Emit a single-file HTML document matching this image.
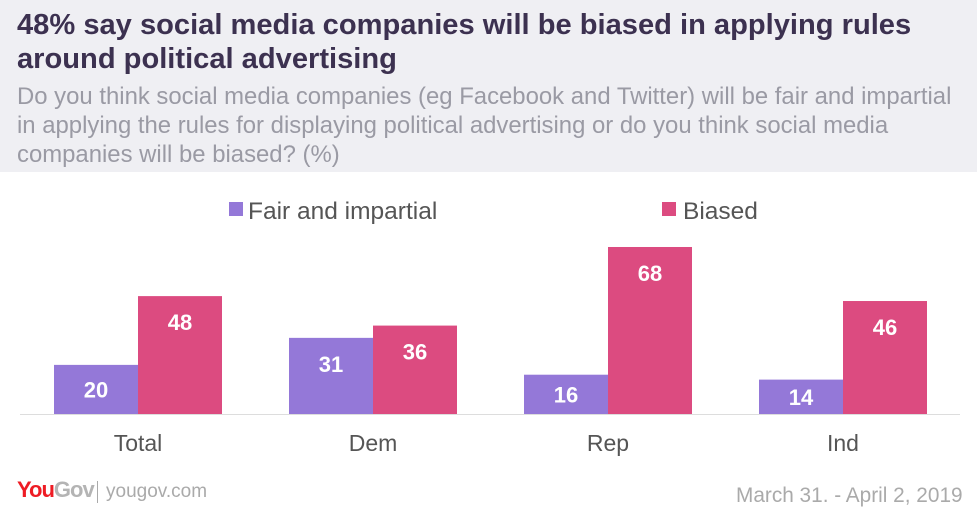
<!DOCTYPE html>
<html><head><meta charset="utf-8"><style>
body{margin:0;width:977px;height:508px;background:#fff;font-family:"Liberation Sans",sans-serif;position:relative;overflow:hidden}
#hdr{position:absolute;left:0;top:0;width:977px;height:172px;background:#efeff3}
#title{position:absolute;left:17px;top:8px;font-size:29.1px;font-weight:bold;color:#3c3150;line-height:34px;white-space:nowrap}
#sub{position:absolute;left:17px;top:82px;font-size:23.9px;color:#9a9aa4;line-height:29px;white-space:nowrap}
.t{position:absolute}
</style></head><body>
<div id="hdr"></div>
<div id="title">48% say social media companies will be biased in applying rules<br>around political advertising</div>
<div id="sub">Do you think social media companies (eg Facebook and Twitter) will be fair and impartial<br>in applying the rules for displaying political advertising or do you think social media<br>companies will be biased? (%)</div>
<svg id="chart" width="977" height="508" style="position:absolute;left:0;top:0">
<rect x="229" y="202" width="14" height="14" fill="#9478d8"/>
<text x="248" y="219" font-size="24.5" fill="#555">Fair and impartial</text>
<rect x="662" y="202" width="14" height="14" fill="#dc4b80"/>
<text x="683" y="219" font-size="24.5" fill="#555">Biased</text>
<line x1="20" x2="960" y1="414.5" y2="414.5" stroke="#ddd"/>
<g id="bars"></g>
</svg>
<div class="t" style="left:17px;top:477px;font-size:22px;font-weight:bold;color:#ee1c24;letter-spacing:-1px">You<span style="color:#b4b4b4">Gov</span></div>
<div class="t" style="left:97px;top:481px;width:1px;height:22px;background:#aaa"></div>
<div class="t" style="left:106px;top:481px;font-size:19px;color:#aaa">yougov.com</div>
<div class="t" style="left:736px;top:484px;font-size:20.8px;color:#aaa">March 31. - April 2, 2019</div>
<script>
const categories=["Total","Dem","Rep","Ind"];
const fairValues=[20,31,16,14];
const biasedValues=[48,36,68,46];
const base=414, scale=2.456, barW=84;
function y(v){return base-v*scale;}
function cx(i){return 138+i*235;}
const g=document.getElementById('bars');
const ns='http://www.w3.org/2000/svg';
function bar(x,v,col,name){
 const r=document.createElementNS(ns,'rect');
 r.setAttribute('x',x);r.setAttribute('y',y(v));r.setAttribute('width',barW);r.setAttribute('height',v*scale);r.setAttribute('fill',col);
 
 
 g.appendChild(r);
 const t=document.createElementNS(ns,'text');
 const c=Math.min(y(v)+26,(y(v)+base)/2);
 t.setAttribute('x',x+barW/2);t.setAttribute('y',c+8);t.setAttribute('text-anchor','middle');
 t.setAttribute('font-size','22');t.setAttribute('font-weight','bold');t.setAttribute('fill','#fff');
 t.textContent=v;
 
 
 g.appendChild(t);
}
categories.forEach((c,i)=>{
 bar(cx(i)-barW,fairValues[i],'#9478d8','bar-fair-'+c.toLowerCase());
 bar(cx(i),biasedValues[i],'#dc4b80','bar-biased-'+c.toLowerCase());
 const t=document.createElementNS(ns,'text');
 t.setAttribute('x',cx(i));t.setAttribute('y',451);t.setAttribute('text-anchor','middle');
 t.setAttribute('font-size','23');t.setAttribute('fill','#555');t.textContent=c;
 
 
 g.appendChild(t);
});
</script>
</body></html>
